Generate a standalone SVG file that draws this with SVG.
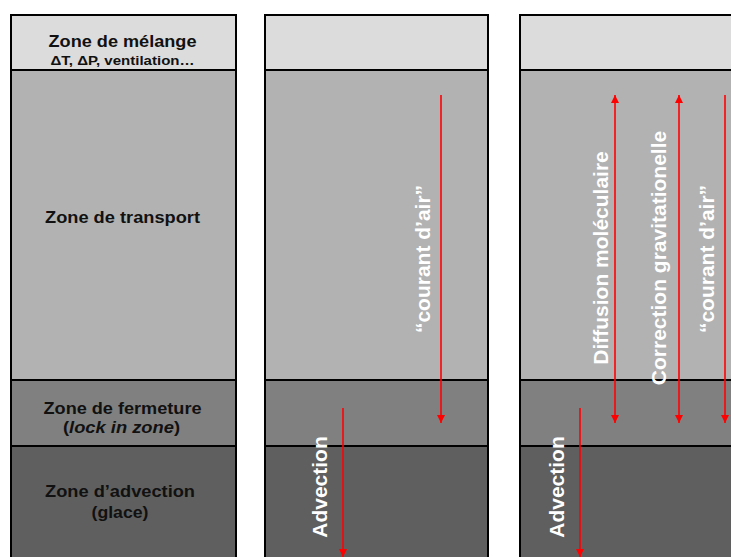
<svg xmlns="http://www.w3.org/2000/svg" width="731" height="557" viewBox="0 0 731 557">
<style>
.z1{fill:#dcdcdc;stroke:#000;stroke-width:2}
.z2{fill:#b2b2b2;stroke:#000;stroke-width:2}
.z3{fill:#808080;stroke:#000;stroke-width:2}
.z4{fill:#5f5f5f;stroke:#000;stroke-width:2}
.lbl{font-family:"Liberation Sans",Arial,sans-serif;font-weight:bold;fill:#111;text-anchor:middle}
.rot{font-family:"Liberation Sans",Arial,sans-serif;font-weight:bold;fill:#fff;text-anchor:middle;font-size:21px}
.arr{stroke:#ff0000;stroke-width:1.6;fill:none}
</style>
<defs>
<marker id="ah" viewBox="0 0 10 10" refX="10" refY="5" markerWidth="8" markerHeight="8" markerUnits="userSpaceOnUse" orient="auto-start-reverse">
<path d="M0,0 L10,5 L0,10 z" fill="#ff0000"/>
</marker>
</defs>
<g id="col1">
<rect class="z1" x="11" y="15" width="225" height="55"/>
<rect class="z2" x="11" y="70" width="225" height="310"/>
<rect class="z3" x="11" y="380" width="225" height="66"/>
<rect class="z4" x="11" y="446" width="225" height="120"/>
<text class="lbl" x="122.5" y="47" font-size="17" textLength="148" lengthAdjust="spacingAndGlyphs">Zone de mélange</text>
<text class="lbl" x="122.5" y="65" font-size="13" textLength="144" lengthAdjust="spacingAndGlyphs">ΔT, ΔP, ventilation…</text>
<text class="lbl" x="122.5" y="223" font-size="17" textLength="155" lengthAdjust="spacingAndGlyphs">Zone de transport</text>
<text class="lbl" x="122.5" y="414" font-size="17" textLength="158" lengthAdjust="spacingAndGlyphs">Zone de fermeture</text>
<text class="lbl" x="121.5" y="433" font-size="17" textLength="117" lengthAdjust="spacingAndGlyphs">(<tspan font-style="italic">lock in zone</tspan>)</text>
<text class="lbl" x="120" y="497" font-size="17" textLength="150" lengthAdjust="spacingAndGlyphs">Zone d’advection</text>
<text class="lbl" x="120" y="518" font-size="17" textLength="57" lengthAdjust="spacingAndGlyphs">(glace)</text>
</g>
<g id="col2">
<rect class="z1" x="265" y="15" width="223" height="55"/>
<rect class="z2" x="265" y="70" width="223" height="310"/>
<rect class="z3" x="265" y="380" width="223" height="66"/>
<rect class="z4" x="265" y="446" width="223" height="120"/>
<text class="rot" transform="translate(430,259) rotate(-90)">“courant d’air”</text>
<text class="rot" transform="translate(327,487) rotate(-90)">Advection</text>
</g>
<g id="col3">
<rect class="z1" x="520" y="15" width="230" height="55"/>
<rect class="z2" x="520" y="70" width="230" height="310"/>
<rect class="z3" x="520" y="380" width="230" height="66"/>
<rect class="z4" x="520" y="446" width="230" height="120"/>
<text class="rot" transform="translate(608,258) rotate(-90)">Diffusion moléculaire</text>
<text class="rot" transform="translate(666,258) rotate(-90)">Correction gravitationelle</text>
<text class="rot" transform="translate(714,259) rotate(-90)">“courant d’air”</text>
<text class="rot" transform="translate(564,487) rotate(-90)">Advection</text>
</g>
<g id="connectors">
<line class="arr" x1="441" y1="95" x2="441" y2="423" marker-end="url(#ah)"/>
<line class="arr" x1="343" y1="408" x2="343" y2="557" marker-end="url(#ah)"/>
<line class="arr" x1="615" y1="95" x2="615" y2="423" marker-start="url(#ah)" marker-end="url(#ah)"/>
<line class="arr" x1="679" y1="95" x2="679" y2="423" marker-start="url(#ah)" marker-end="url(#ah)"/>
<line class="arr" x1="725" y1="95" x2="725" y2="423" marker-end="url(#ah)"/>
<line class="arr" x1="580" y1="408" x2="580" y2="557" marker-end="url(#ah)"/>
</g>
</svg>
